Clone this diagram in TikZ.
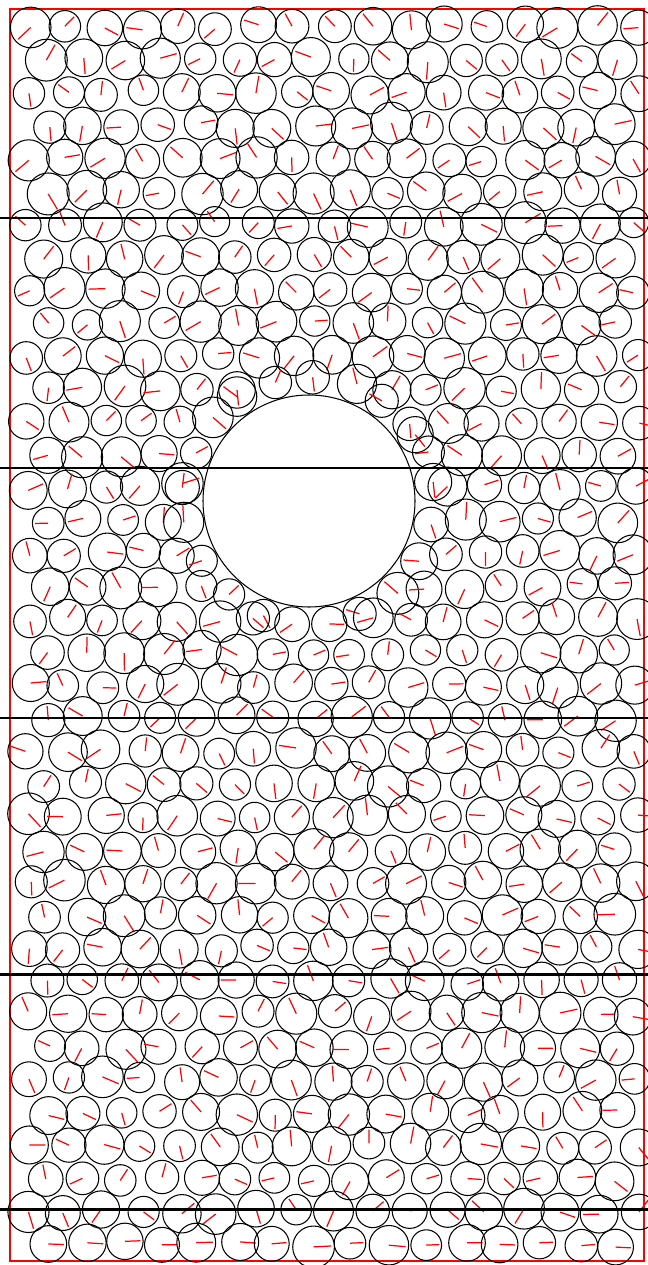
\documentclass[tikz,border=0pt]{standalone}
\usepackage{tikz}

\begin{document}
\begin{tikzpicture}[x=0.2mm, y=-0.2mm,
  grain/.style={draw=black, line width=0.6pt},
  spoke/.style={draw=red, line width=0.7pt},
  frame/.style={draw=red, line width=0.6pt},
  cutline/.style={draw=black, line width=1.7pt},
]
\useasboundingbox (0,0) rectangle (648,1265);
\pgfmathsetseed{4217}

\draw[frame] (10,9) rectangle (644,1261);

% big hole
\coordinate (hole) at (309,501);
\draw[grain] (hole) circle (106);

% packed grains, hex grid with jitter, pushed off the hole
\foreach \row in {0,...,37}{
  \pgfmathtruncatemacro\odd{mod(\row,2)}
  \pgfmathtruncatemacro\last{16-\odd}
  \foreach \col in {0,...,\last}{
    \pgfmathsetmacro\cx{28+38*\col+19*\odd+7*rnd-3.5}
    \pgfmathsetmacro\cy{27+32.9*\row+6*rnd-3}
    \pgfmathsetmacro\rad{15+6*rnd}
    \pgfmathsetmacro\ang{\row==37 ? 10*rnd-5 : 360*rnd}
    \pgfmathsetmacro\dist{veclen(\cx-309,\cy-501)}
    \pgfmathtruncatemacro\keep{\dist > 90}
    \ifnum\keep=1
      \pgfmathsetmacro\push{max(1,(107+\rad)/\dist)}
      \pgfmathsetmacro\px{309+(\cx-309)*\push}
      \pgfmathsetmacro\py{501+(\cy-501)*\push}
      \draw[grain] (\px,\py) circle (\rad);
      \draw[spoke] (\px,\py) -- ++(\ang:0.85*\rad);
    \fi
  }
}

% cutting lines
\foreach \ly in {218,468,718,974,1209}{
  \draw[cutline] (0,\ly) -- (648,\ly);
}
\end{tikzpicture}
\end{document}
